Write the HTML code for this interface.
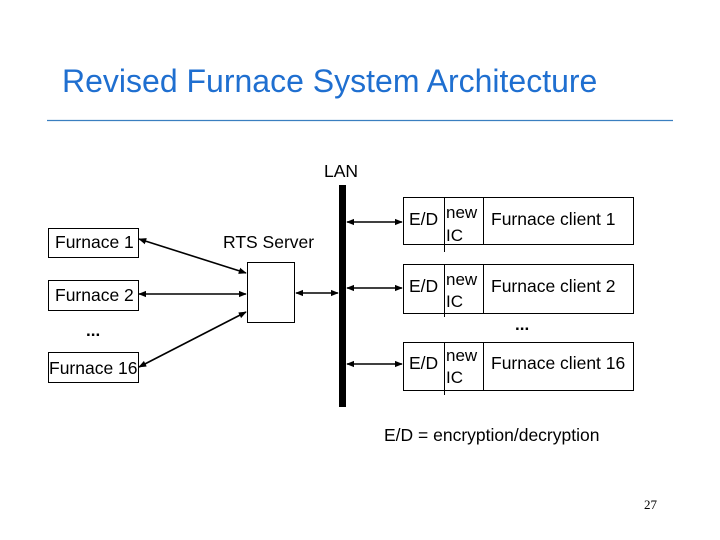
<!DOCTYPE html>
<html><head><meta charset="utf-8"><style>
html,body{margin:0;padding:0;background:#fff;}
svg{display:block;}
text{font-family:"Liberation Sans",Arial,sans-serif;fill:#000;}
</style></head><body>
<svg width="720" height="540" viewBox="0 0 720 540" xmlns="http://www.w3.org/2000/svg">
<defs>
<marker id="a" viewBox="0 0 10 10" refX="9" refY="5" markerWidth="5" markerHeight="5" orient="auto-start-reverse"><path d="M0,1 L10,5 L0,9 z" fill="#000"/></marker>
</defs>
<text x="62" y="92" font-size="32" style="fill:#1f6fd0">Revised Furnace System Architecture</text>
<line x1="47" y1="120.5" x2="673" y2="120.5" stroke="#3a7fc0" stroke-width="1.2"/>
<text x="324" y="177" font-size="17.5">LAN</text>
<rect x="339" y="185" width="7" height="222" fill="#000"/>
<g fill="#fff" stroke="#000" stroke-width="1">
<rect x="48.5" y="228.5" width="90" height="29"/>
<rect x="48.5" y="280.5" width="90" height="30"/>
<rect x="48.5" y="352.5" width="90" height="30"/>
<rect x="247.5" y="262.5" width="47" height="60"/>
<rect x="403.5" y="197.5" width="230" height="47"/>
<rect x="403.5" y="264.5" width="230" height="49"/>
<rect x="403.5" y="342.5" width="230" height="48"/>
<line x1="444.5" y1="197" x2="444.5" y2="252"/>
<line x1="483.5" y1="197" x2="483.5" y2="245"/>
<line x1="444.5" y1="264" x2="444.5" y2="317"/>
<line x1="483.5" y1="264" x2="483.5" y2="314"/>
<line x1="444.5" y1="342" x2="444.5" y2="395"/>
<line x1="483.5" y1="342" x2="483.5" y2="391"/>
</g>
<g stroke="#000" stroke-width="1.6" marker-start="url(#a)" marker-end="url(#a)">
<line x1="139" y1="239" x2="246" y2="273"/>
<line x1="139" y1="294" x2="246" y2="294"/>
<line x1="139" y1="367" x2="246" y2="312"/>
<line x1="296" y1="293" x2="338" y2="293"/>
<line x1="347" y1="222" x2="402" y2="222"/>
<line x1="347" y1="288" x2="402" y2="288"/>
<line x1="347" y1="364" x2="402" y2="364"/>
</g>
<g font-size="17.5">
<text x="55" y="248">Furnace 1</text>
<text x="55" y="301">Furnace 2</text>
<text x="49" y="374">Furnace 16</text>
<text x="223" y="248">RTS Server</text>
<text x="409" y="225">E/D</text>
<text x="491" y="225">Furnace client 1</text>
<text x="409" y="292">E/D</text>
<text x="491" y="292">Furnace client 2</text>
<text x="409" y="369">E/D</text>
<text x="491" y="369">Furnace client 16</text>
<text x="384" y="441">E/D = encryption/decryption</text>
</g>
<g font-size="17" font-weight="bold">
<text x="86" y="336">...</text>
<text x="515" y="330">...</text>
</g>
<g font-size="17">
<text x="446" y="218">new</text>
<text x="446" y="241">IC</text>
<text x="446" y="285">new</text>
<text x="446" y="307">IC</text>
<text x="446" y="361">new</text>
<text x="446" y="383">IC</text>
</g>
<text x="644" y="509" font-size="13" style="font-family:'Liberation Serif',serif">27</text>
</svg>
</body></html>
